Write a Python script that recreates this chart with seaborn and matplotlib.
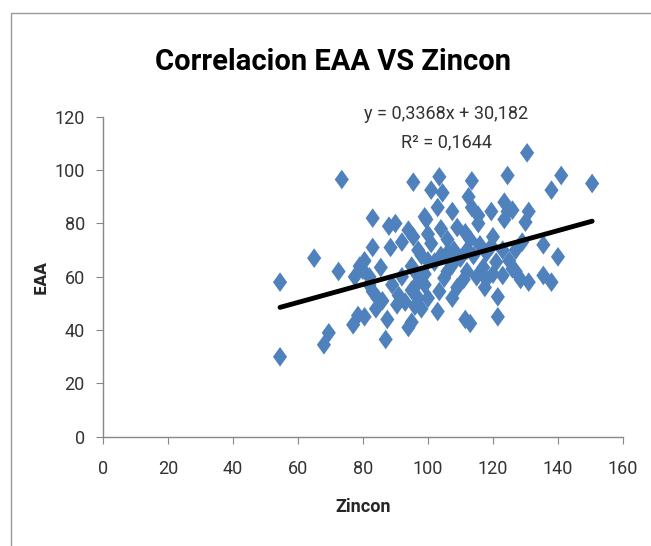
import numpy as np
import pandas as pd
import matplotlib
matplotlib.use("Agg")
import matplotlib.pyplot as plt
import seaborn as sns
from matplotlib.path import Path
from matplotlib.patches import Rectangle

zincon = [54.5, 54.5, 65, 68, 69.5, 72.5, 73.5, 77.5, 80, 80.5, 79, 83, 83, 85.5, 88.5,
          90, 92, 94, 95.5, 95.5, 99.5, 83, 84.5, 78.5, 77, 80.5, 87.5, 87, 93, 95,
          97, 99, 94, 130.5, 150.5, 141, 138, 124.5, 113.5, 103.5, 101, 104.5, 99, 103, 107.5,
          112.5, 113.5, 115.5, 119.5, 123.5, 124.5, 131, 130, 109, 111.5, 115.5, 123.5, 135.5, 140,
          101, 106, 113, 119.5, 123, 128.5, 131, 135.5, 138, 123, 117.5, 121.5, 121.5, 113, 111.5,
          103, 100, 107.5, 109, 105, 111, 117, 121, 125, 103.5, 102, 107.5,
          96, 97, 98, 95, 96, 99, 100, 98, 95, 92, 91, 90.5, 86, 84, 82, 82, 89,
          104, 106, 108, 110, 112, 114, 116, 118, 120, 104, 106, 112, 115, 118, 120, 126, 127,
          129, 126, 88, 100, 97, 127]
eaa = [58, 30, 67, 34.5, 39, 62, 96.5, 60, 62.5, 66, 64, 82, 71, 63.5, 71,
       80, 73, 77.5, 75, 95.5, 81.5, 54.5, 52, 45.5, 42, 45, 44, 36.5, 50.5, 43,
       52, 57, 41, 106.5, 95, 98, 92.5, 98, 96, 97.5, 92.5, 91.5, 82.5, 86, 84.5,
       90, 86, 83, 84.5, 88, 84.5, 84.5, 80.5, 78.5, 76.5, 80, 81.5, 72, 67.5,
       72.5, 74, 74, 71.5, 70, 59, 58, 60.5, 58, 60.5, 56, 52.5, 45, 42.5, 44,
       47, 52, 52, 56, 59.5, 59, 63.5, 65.5, 66, 54.5, 65.5, 64.5,
       62, 58, 48, 55, 49, 61, 66, 68, 64, 60, 53, 49.5, 51, 48, 57, 60, 57,
       68, 69, 70, 67, 70, 68, 72, 69, 75, 78, 62, 62, 60, 59, 61, 63, 70,
       73, 85, 79, 76, 70, 62]
slope = 0.3368
intercept = 30.182
equation = "y = 0,3368x + 30,182"
r2_text = "R² = 0,1644"

df = pd.DataFrame({"Zincon": zincon, "EAA": eaa})

sns.set_style("white")
plt.rcParams["font.family"] = ["Roboto", "DejaVu Sans"]

fig = plt.figure(figsize=(6.51, 5.46), dpi=100)
ax = fig.add_axes([0.158, 0.2, 0.799, 0.586])

diamond = Path([(0, 1), (0.72, 0), (0, -1), (-0.72, 0), (0, 1)],
               [Path.MOVETO, Path.LINETO, Path.LINETO, Path.LINETO, Path.CLOSEPOLY])
sns.scatterplot(data=df, x="Zincon", y="EAA", marker=diamond, s=200,
                color="#4F81BD", edgecolor="none", linewidth=0, ax=ax, zorder=2)

xs = np.array([min(zincon), max(zincon)])
ax.plot(xs, slope * xs + intercept, color="black", lw=3.5, solid_capstyle="round", zorder=3)

ax.set_xlim(0, 160)
ax.set_ylim(0, 120)
ax.set_xticks(range(0, 161, 20))
ax.set_yticks(range(0, 121, 20))
for s in ["top", "right"]:
    ax.spines[s].set_visible(False)
for s in ["left", "bottom"]:
    ax.spines[s].set_color("#888888")
    ax.spines[s].set_linewidth(1)
ax.tick_params(axis="both", direction="out", length=5, color="#888888",
               labelsize=13, labelcolor="#333333", left=True, bottom=True)
ax.tick_params(axis="x", pad=12)
ax.tick_params(axis="y", pad=8)

ax.set_xlabel("Zincon", fontsize=13, fontweight="bold", labelpad=14)
ax.set_ylabel("EAA", fontsize=11, fontweight="bold", family=["DejaVu Sans"], labelpad=4)

ax.text(0.66, 1.01, equation, transform=ax.transAxes, ha="center", va="center",
        fontsize=13, color="#333333")
ax.text(0.66, 0.92, r2_text, transform=ax.transAxes, ha="center", va="center",
        fontsize=13, color="#333333")

fig.text(0.511, 0.887, "Correlacion EAA VS Zincon", ha="center", va="center",
         fontsize=21, fontweight="bold", color="black")

fig.patches.append(Rectangle((11 / 651, -0.1), 1.2, 1 - 13 / 546 + 0.1,
                             transform=fig.transFigure, fill=False,
                             edgecolor="#999999", linewidth=1))

fig.savefig("out.png", dpi=100)
